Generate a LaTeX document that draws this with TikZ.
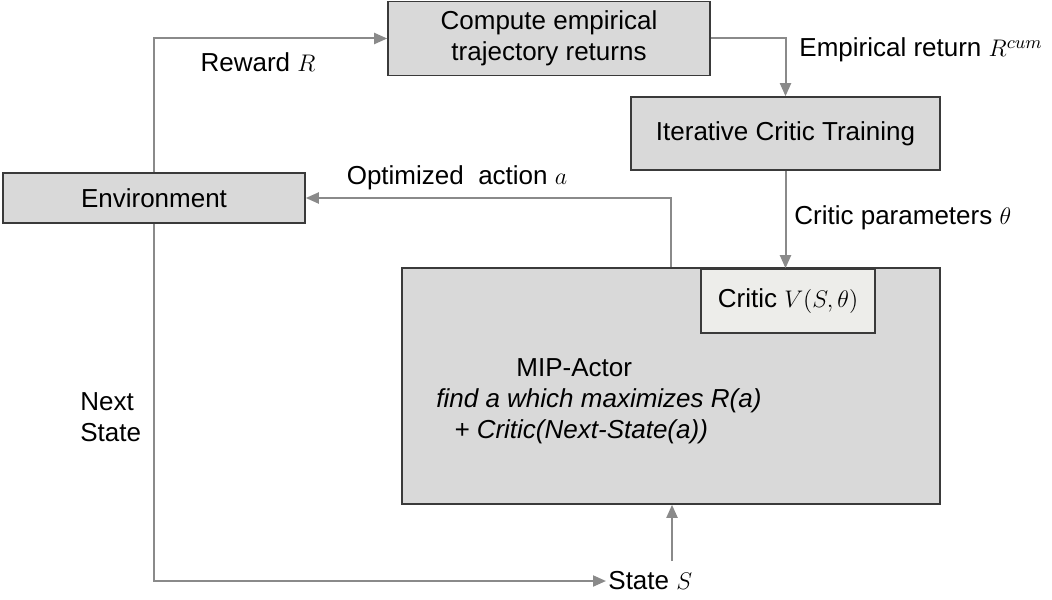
\documentclass[tikz,border=0pt]{standalone}
\usepackage{fontspec}
\setmainfont{Liberation Sans}
\usetikzlibrary{positioning,arrows.meta,calc}
\definecolor{boxgrey}{HTML}{D9D9D9}
\definecolor{edgegrey}{HTML}{3A3A3A}
\definecolor{flowgrey}{HTML}{8A8A8A}
\definecolor{critgrey}{HTML}{EDEDEA}
\tikzset{
  blk/.style   ={rectangle, draw=edgegrey, line width=0.8pt, fill=boxgrey,
                 align=center, font=\fontsize{13}{15.5}\selectfont, inner sep=2pt},
  critblk/.style={blk, fill=critgrey},
  flow/.style  ={-{Triangle[length=6.5pt,width=5.5pt]}, line width=1pt, draw=flowgrey},
  lbl/.style   ={font=\fontsize{13}{15.5}\selectfont, inner sep=1pt}
}
\begin{document}
\begin{tikzpicture}[x=0.5pt,y=-0.5pt]
  \useasboundingbox (0,0) rectangle (1052,599);

  % blocks
  \node[blk,minimum width=151pt,minimum height=25pt] (env) at (154,198) {Environment};
  \node[blk,minimum width=161pt,minimum height=37pt] (comp) at (549,38.5)
        {Compute empirical\\trajectory returns};
  \node[blk,minimum width=154.5pt,minimum height=36.5pt] (ict) at (785.5,133.5)
        {Iterative Critic Training};
  \node[blk,minimum width=269pt,minimum height=118pt] (actor) at (671,386) {};
  \node[critblk,minimum width=87pt,minimum height=32pt] (critic) at (788,301)
        {Critic $V(S,\theta)$};
  \node[lbl,align=left,anchor=north west] (mip) at (434,356)
        {\hspace*{40pt}MIP-Actor\\
         \textit{find a which maximizes R(a)}\\
         \hspace*{9pt}\textit{+ Critic(Next-State(a))}};

  % labels
  \node[lbl] (rew) at (258,62) {Reward $R$};
  \node[lbl] (act) at (457,178) {Optimized\ \ action $a$};
  \node[lbl,anchor=west] (emp) at (797,50) {Empirical return $R^{cum}$};
  \node[lbl,anchor=west] (cpar) at (792,218) {Critic parameters $\theta$};
  \node[lbl,align=left,anchor=west] (nxt) at (78,417) {Next\\State};
  \node[lbl,anchor=west] (state) at (606,581) {State $S$};
  \coordinate (stin) at (672,561);

  % connectors
  \draw[flow] (env.north) |- (comp.west);
  \draw[flow] (comp.east) -| (ict.north);
  \draw[flow] (ict.south) -- (ict.south |- critic.north);
  \draw[flow] (actor.north) |- (env.east);
  \draw[flow] (env.south) |- (state.west);
  \draw[flow] (stin) -- (stin |- actor.south);
\end{tikzpicture}
\end{document}
